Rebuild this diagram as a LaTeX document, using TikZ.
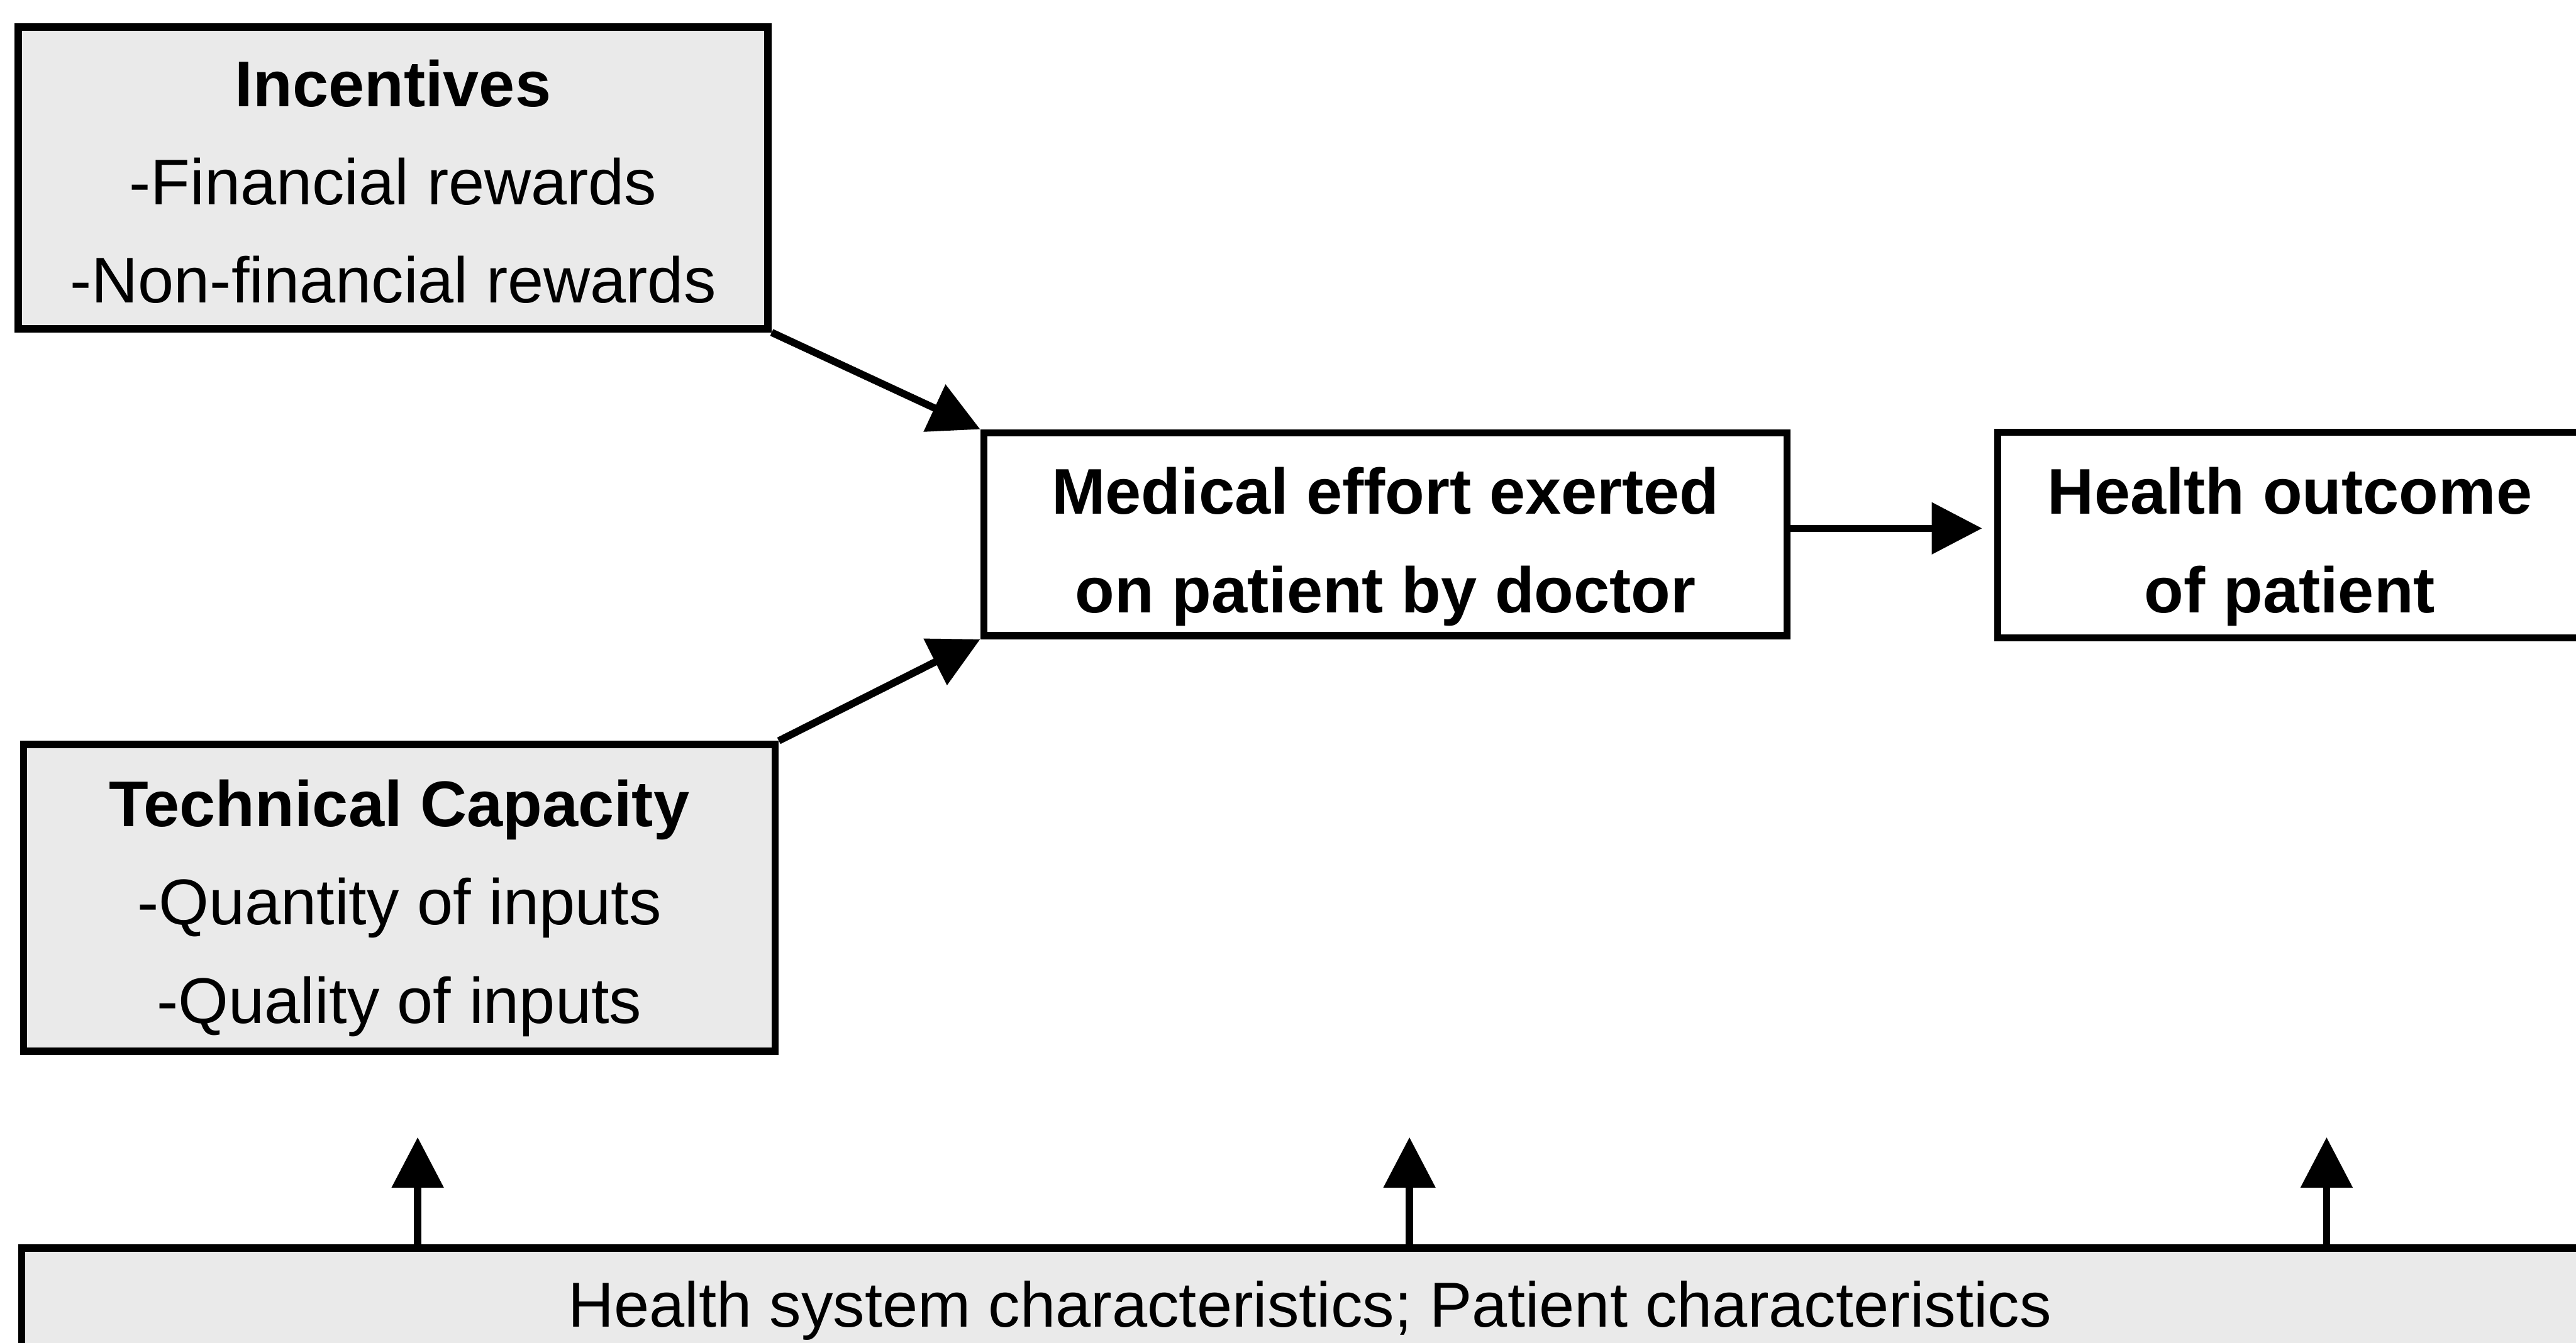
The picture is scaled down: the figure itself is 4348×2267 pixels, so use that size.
\documentclass[tikz,border=0pt]{standalone}
\usepackage{fontspec}
\setmainfont{Liberation Sans}
\usetikzlibrary{arrows.meta}
\definecolor{boxgray}{RGB}{234,234,234}
\newcommand\firstlinestrut[1]{\rule{0pt}{#1}}
\begin{document}
\begin{tikzpicture}[x=0.01cm,y=-0.01cm,
  box/.style={draw=black, line width=3.5pt, rectangle, inner sep=0pt, align=center,
    font=\fontsize{31}{47.2}\selectfont},
  graybox/.style={box, fill=boxgray},
  whitebox/.style={box, fill=white},
  arr/.style={line width=3.5pt, -{Triangle[length=0.85cm,width=0.85cm]}}]
\useasboundingbox (0,0) rectangle (4348,2267);
\fill[white] (0,0) rectangle (4348,2267);
\clip (0,0) rectangle (4348,2267);

\node[graybox, minimum width=12.65cm, minimum height=5.09cm] (inc) at (663.5,300.5)
  {\firstlinestrut{0.91cm}\textbf{Incentives}\\-Financial rewards\\-Non-financial rewards};
\node[graybox, minimum width=12.68cm, minimum height=5.18cm] (tech) at (674,1516)
  {\firstlinestrut{1.13cm}\textbf{Technical Capacity}\\-Quantity of inputs\\-Quality of inputs};
\node[whitebox, minimum width=13.55cm, minimum height=3.42cm] (med) at (2338.5,902)
  {\firstlinestrut{1.21cm}\textbf{Medical effort exerted}\\\textbf{on patient by doctor}};
\node[whitebox, minimum width=9.86cm, minimum height=3.47cm] (hout) at (3865,903.5)
  {\firstlinestrut{1.18cm}\textbf{Health outcome}\\\textbf{of patient}};
\node[graybox, minimum width=43.46cm, minimum height=2.12cm,
  font=\fontsize{30.5}{36}\selectfont] (bar) at (2211,2213)
  {Health system characteristics; Patient characteristics};

\coordinate (ha) at (0,892);
\coordinate (t1) at (705,1920);
\coordinate (t2) at (2379,1920);
\coordinate (t3) at (3927,1920);

\draw[arr] (inc.south east) -- (med.north west);
\draw[arr] (tech.north east) -- (med.south west);
\draw[arr, shorten >=0.2cm] (med.east |- ha) -- (hout.west |- ha);
\draw[arr] (bar.north -| t1) -- (t1);
\draw[arr] (bar.north -| t2) -- (t2);
\draw[arr] (bar.north -| t3) -- (t3);
\end{tikzpicture}
\end{document}
